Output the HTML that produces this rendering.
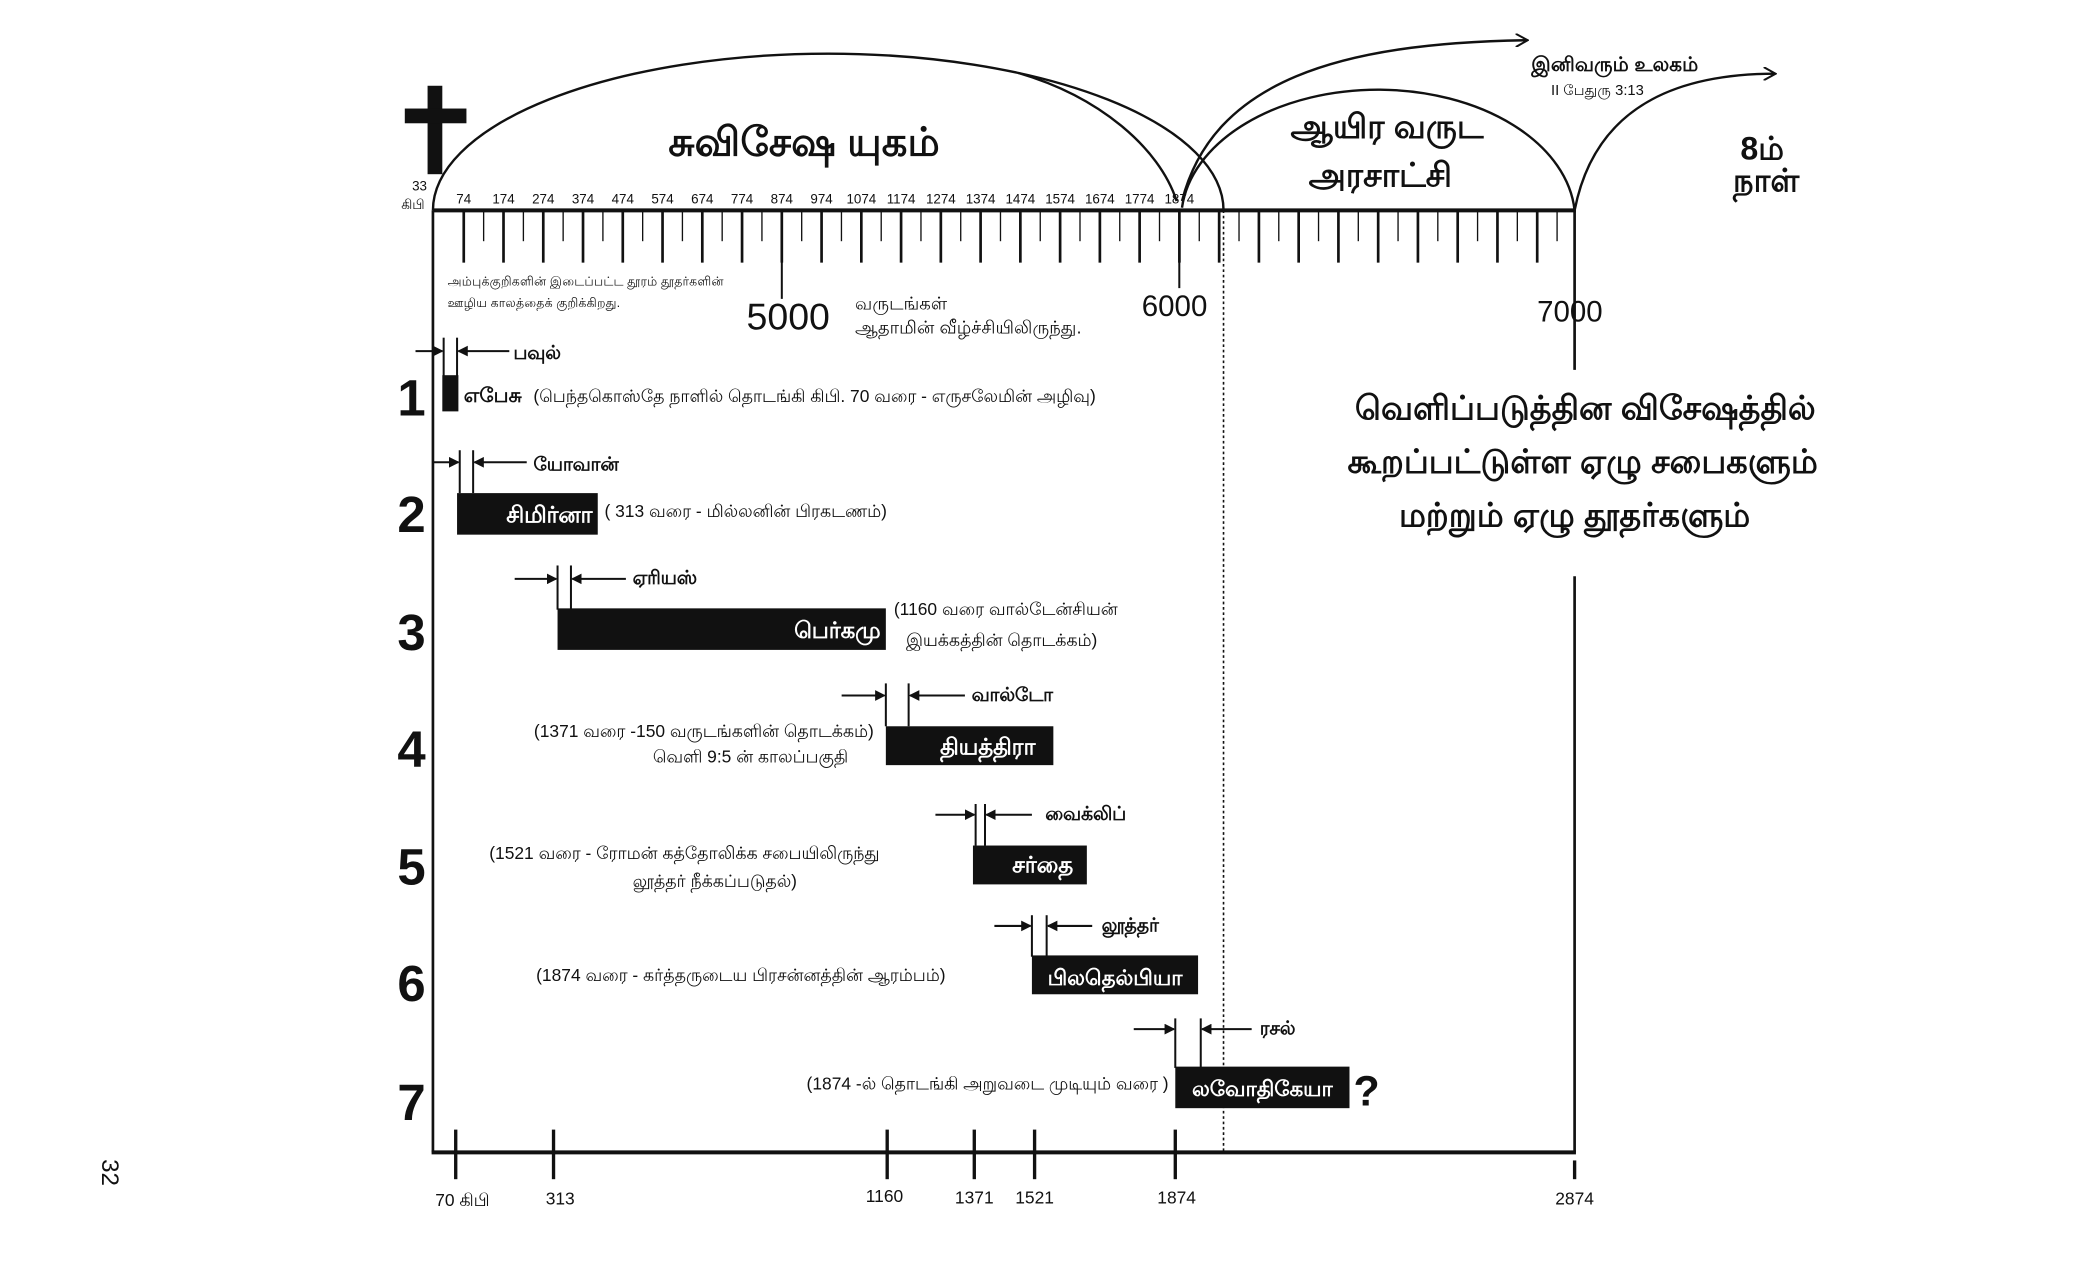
<!DOCTYPE html>
<html><head><meta charset="utf-8">
<style>
html,body{margin:0;padding:0;background:#fff;}
svg{display:block;}
text{font-family:"Liberation Sans","Noto Sans CJK SC",sans-serif;fill:#111;}
.b{font-weight:bold;}
.w{fill:#fff;font-weight:bold;}
</style></head><body>
<svg width="2100" height="1275" viewBox="0 0 1567 951.5" xmlns="http://www.w3.org/2000/svg">
<defs>
<marker id="ah" markerWidth="10" markerHeight="10" refX="9" refY="5" orient="auto" markerUnits="userSpaceOnUse">
<path d="M0,0 L9,5 L0,10" fill="none" stroke="#111" stroke-width="1.5"/></marker>
<marker id="af" markerWidth="8" markerHeight="8" refX="7" refY="4" orient="auto" markerUnits="userSpaceOnUse">
<path d="M0,0 L8,4 L0,8 z" fill="#111"/></marker>
</defs>
<g stroke="#111" fill="none">
<line x1="323" y1="157" x2="1176" y2="157" stroke-width="3"/>
<line x1="323" y1="157" x2="323" y2="860" stroke-width="2"/>
<line x1="322" y1="860" x2="1176" y2="860" stroke-width="3"/>
<line x1="1175" y1="157" x2="1175" y2="276" stroke-width="2"/>
<line x1="1175" y1="430" x2="1175" y2="860" stroke-width="2"/>
<line x1="913" y1="157" x2="913" y2="860" stroke-width="1.2" stroke-dasharray="2,2"/>
<path d="M323 157 A295 117 0 0 1 913 157" stroke-width="1.8"/>
<path d="M760 54.5 C820 72 865 110 878 150" stroke-width="1.8"/>
<path d="M882 155 A147 97 0 0 1 1175 157" stroke-width="1.8"/>
<path d="M882 150 C905 60 1000 32 1140 30" stroke-width="1.8" marker-end="url(#ah)"/>
<path d="M1175 157 C1190 80 1250 55 1325 55" stroke-width="1.8" marker-end="url(#ah)"/>
</g>
<rect x="319" y="64" width="11" height="66" fill="#111"/>
<rect x="302" y="81" width="46" height="11" fill="#111"/>
<g id="ticks" stroke="#111"></g>
<text x="600" y="116" font-size="30" class="b" text-anchor="middle">சுவிசேஷ யுகம்</text>
<text x="1035" y="103" font-size="25" class="b" text-anchor="middle">ஆயிர வருட</text>
<text x="1030" y="139" font-size="25" class="b" text-anchor="middle">அரசாட்சி</text>
<text x="1205" y="53" font-size="15" class="b" text-anchor="middle">இனிவரும் உலகம்</text>
<text x="1192" y="71" font-size="11" text-anchor="middle">II பேதுரு 3:13</text>
<text x="1315" y="119" font-size="24" class="b" text-anchor="middle">8ம்</text>
<text x="1318" y="143" font-size="24" class="b" text-anchor="middle">நாள்</text>
<text x="313" y="142" font-size="10" text-anchor="middle">33</text>
<text x="308" y="156" font-size="10" text-anchor="middle">கிபி</text>
<g font-size="10" text-anchor="middle" id="yrs"></g>
<text x="334" y="213" font-size="9.5">அம்புக்குறிகளின் இடைப்பட்ட தூரம் தூதர்களின்</text>
<text x="334" y="229" font-size="9.5">ஊழிய காலத்தைக் குறிக்கிறது.</text>
<text x="557" y="246" font-size="28">5000</text>
<text x="638" y="231" font-size="13.5">வருடங்கள்</text>
<text x="638" y="249" font-size="13.5">ஆதாமின் வீழ்ச்சியிலிருந்து.</text>
<text x="852" y="236" font-size="22">6000</text>
<text x="1147" y="240" font-size="22">7000</text>
<g font-size="25" class="b" text-anchor="middle">
<text x="1183" y="313">வெளிப்படுத்தின விசேஷத்தில்</text>
<text x="1181" y="353">கூறப்பட்டுள்ள ஏழு சபைகளும்</text>
<text x="1175" y="393">மற்றும்  ஏழு தூதர்களும்</text>
</g>
<g font-size="38" class="b" text-anchor="middle">
<text x="307" y="310">1</text><text x="307" y="397">2</text><text x="307" y="485">3</text>
<text x="307" y="572">4</text><text x="307" y="660">5</text><text x="307" y="747">6</text><text x="307" y="836">7</text>
</g>
<g stroke="#111" stroke-width="1.5" fill="none">
<line x1="310" y1="262" x2="330" y2="262" marker-end="url(#af)"/><line x1="380" y1="262" x2="342" y2="262" marker-end="url(#af)"/>
<line x1="331" y1="252" x2="331" y2="282"/><line x1="341" y1="252" x2="341" y2="282"/>
<line x1="323" y1="345" x2="342" y2="345" marker-end="url(#af)"/><line x1="393" y1="345" x2="354" y2="345" marker-end="url(#af)"/>
<line x1="343" y1="336" x2="343" y2="368"/><line x1="353" y1="336" x2="353" y2="368"/>
<line x1="384" y1="432" x2="415" y2="432" marker-end="url(#af)"/><line x1="467" y1="432" x2="427" y2="432" marker-end="url(#af)"/>
<line x1="416" y1="422" x2="416" y2="455"/><line x1="426" y1="422" x2="426" y2="455"/>
<line x1="628" y1="519" x2="660" y2="519" marker-end="url(#af)"/><line x1="720" y1="519" x2="679" y2="519" marker-end="url(#af)"/>
<line x1="661" y1="510" x2="661" y2="542"/><line x1="678" y1="510" x2="678" y2="542"/>
<line x1="698" y1="608" x2="727" y2="608" marker-end="url(#af)"/><line x1="770" y1="608" x2="736" y2="608" marker-end="url(#af)"/>
<line x1="728" y1="600" x2="728" y2="631"/><line x1="735" y1="600" x2="735" y2="631"/>
<line x1="742" y1="691" x2="769" y2="691" marker-end="url(#af)"/><line x1="815" y1="691" x2="782" y2="691" marker-end="url(#af)"/>
<line x1="770" y1="683" x2="770" y2="714"/><line x1="781" y1="683" x2="781" y2="714"/>
<line x1="846" y1="768" x2="876" y2="768" marker-end="url(#af)"/><line x1="934" y1="768" x2="897" y2="768" marker-end="url(#af)"/>
<line x1="877" y1="760" x2="877" y2="797"/><line x1="896" y1="760" x2="896" y2="797"/>
</g>
<rect x="330" y="280" width="12" height="27" fill="#111"/>
<rect x="341" y="368" width="105" height="31" fill="#111"/>
<rect x="416" y="454" width="245" height="31" fill="#111"/>
<rect x="661" y="542" width="125" height="29" fill="#111"/>
<rect x="726" y="631" width="85" height="29" fill="#111"/>
<rect x="770" y="713" width="124" height="29" fill="#111"/>
<rect x="877" y="796" width="130" height="31" fill="#111"/>
<text x="383" y="268" font-size="14" class="b">பவுல்</text>
<text x="346" y="300" font-size="15" class="b">எபேசு</text>
<text x="398" y="300" font-size="13">(பெந்தகொஸ்தே நாளில் தொடங்கி கிபி. 70 வரை -  எருசலேமின் அழிவு)</text>
<text x="398" y="351" font-size="14" class="b">யோவான்</text>
<text x="442" y="390" font-size="17" class="w" text-anchor="end">சிமிர்னா</text>
<text x="451" y="386" font-size="13">( 313 வரை - மில்லனின் பிரகடணம்)</text>
<text x="472" y="436" font-size="14" class="b">ஏரியஸ்</text>
<text x="657" y="476" font-size="17" class="w" text-anchor="end">பெர்கமு</text>
<text x="667" y="459" font-size="13">(1160 வரை வால்டேன்சியன்</text>
<text x="676" y="482" font-size="13">இயக்கத்தின் தொடக்கம்)</text>
<text x="725" y="523" font-size="14" class="b">வால்டோ</text>
<text x="737" y="563" font-size="17" class="w" text-anchor="middle">தியத்திரா</text>
<text x="652" y="550" font-size="13" text-anchor="end">(1371 வரை -150 வருடங்களின் தொடக்கம்)</text>
<text x="560" y="569" font-size="13" text-anchor="middle">வெளி 9:5 ன் காலப்பகுதி</text>
<text x="780" y="612" font-size="14" class="b">வைக்லிப்</text>
<text x="778" y="651" font-size="17" class="w" text-anchor="middle">சர்தை</text>
<text x="365" y="641" font-size="13">(1521 வரை - ரோமன் கத்தோலிக்க சபையிலிருந்து</text>
<text x="472" y="662" font-size="13">லூத்தர் நீக்கப்படுதல்)</text>
<text x="822" y="695" font-size="14" class="b">லூத்தர்</text>
<text x="832" y="735" font-size="16" class="w" text-anchor="middle">பிலதெல்பியா</text>
<text x="400" y="732" font-size="13">(1874 வரை - கர்த்தருடைய பிரசன்னத்தின் ஆரம்பம்)</text>
<text x="940" y="772" font-size="14" class="b">ரசல்</text>
<text x="942" y="818" font-size="16" class="w" text-anchor="middle">லவோதிகேயா</text>
<text x="1010" y="825" font-size="32" class="b">?</text>
<text x="872" y="813" font-size="13" text-anchor="end">(1874 -ல் தொடங்கி அறுவடை முடியும் வரை )</text>
<g stroke="#111" stroke-width="2.5">
<line x1="340" y1="843" x2="340" y2="880"/><line x1="413" y1="843" x2="413" y2="880"/>
<line x1="662" y1="843" x2="662" y2="880"/><line x1="727" y1="843" x2="727" y2="880"/>
<line x1="772" y1="843" x2="772" y2="880"/><line x1="877" y1="843" x2="877" y2="880"/>
<line x1="1175" y1="866" x2="1175" y2="880"/>
</g>
<g font-size="13" text-anchor="middle">
<text x="345" y="900">70 கிபி</text><text x="418" y="899">313</text><text x="660" y="897">1160</text>
<text x="727" y="898">1371</text><text x="772" y="898">1521</text><text x="878" y="898">1874</text><text x="1175" y="899">2874</text>
</g>
<text transform="translate(76,875) rotate(90)" font-size="18" text-anchor="middle">32</text>
<script>
(function(){
var ns="http://www.w3.org/2000/svg",g=document.getElementById("ticks"),y=document.getElementById("yrs");
for(var k=0;;k++){var x=346+14.835*k;if(x>1172)break;var maj=(k%2==0);
var l=document.createElementNS(ns,"line");l.setAttribute("x1",x);l.setAttribute("x2",x);
l.setAttribute("y1",157);l.setAttribute("y2",maj?196:180);l.setAttribute("stroke-width",maj?2:1);g.appendChild(l);}
var extra=[[346+14.835*16,223],[880,215]];
extra.forEach(function(a){var l=document.createElementNS(ns,"line");l.setAttribute("x1",a[0]);l.setAttribute("x2",a[0]);l.setAttribute("y1",157);l.setAttribute("y2",a[1]);l.setAttribute("stroke-width",1.5);g.appendChild(l);});
var yrs=[74,174,274,374,474,574,674,774,874,974,1074,1174,1274,1374,1474,1574,1674,1774,1874];
yrs.forEach(function(v,i){var t=document.createElementNS(ns,"text");t.setAttribute("x",346+29.67*i);t.setAttribute("y",152);t.textContent=v;y.appendChild(t);});
})();
</script>
</svg>
</body></html>
